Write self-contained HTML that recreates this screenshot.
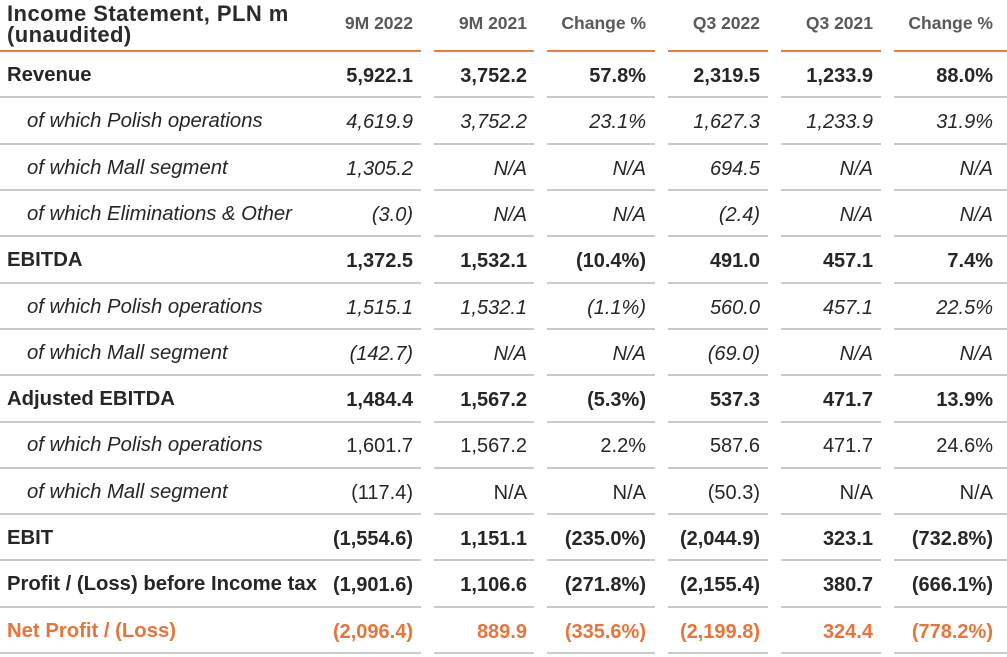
<!DOCTYPE html>
<html>
<head>
<meta charset="utf-8">
<style>
  html,body{margin:0;padding:0;background:#fff;}
  #c{position:relative;width:1007px;height:657px;overflow:hidden;background:#fff;font-family:"Liberation Sans",Arial,sans-serif;color:#262626;}
  .ln{position:absolute;height:2px;background:#c9c9c9;}
  .or{background:#ec7b3c;}
  .t{position:absolute;white-space:nowrap;}
  .title{left:7px;top:3px;font-size:22px;line-height:21px;font-weight:bold;letter-spacing:0.45px;color:#2a2a2a;}
  .hd{font-size:17.5px;line-height:17px;font-weight:bold;color:#595959;top:15px;}
  .row{position:absolute;left:0;width:1007px;height:46px;}
  .lb{position:absolute;left:7px;top:14px;font-size:20.3px;line-height:20px;font-weight:bold;white-space:nowrap;}
  .li{position:absolute;left:27px;top:14px;font-size:20.3px;line-height:20px;font-style:italic;white-space:nowrap;}
  .n{position:absolute;top:15px;font-size:20px;line-height:20px;white-space:nowrap;}
  .b .n{font-weight:bold;}
  .i .n{font-style:italic;}
  .o{color:#e9743a;}
  .c1{right:594px;} .c2{right:480px;} .c3{right:361px;} .c4{right:247px;} .c5{right:134px;} .c6{right:14px;}
</style>
</head>
<body>
<div id="c">
  <div class="t title">Income Statement, PLN m<br>(unaudited)</div>
  <div class="t hd c1">9M 2022</div>
  <div class="t hd c2">9M 2021</div>
  <div class="t hd c3">Change %</div>
  <div class="t hd c4">Q3 2022</div>
  <div class="t hd c5">Q3 2021</div>
  <div class="t hd c6">Change %</div>

  <div class="ln or" style="top:50px;left:0;width:421px"></div>
  <div class="ln or" style="top:50px;left:434px;width:100px"></div>
  <div class="ln or" style="top:50px;left:547px;width:108px"></div>
  <div class="ln or" style="top:50px;left:668px;width:100px"></div>
  <div class="ln or" style="top:50px;left:781px;width:100px"></div>
  <div class="ln or" style="top:50px;left:894px;width:113px"></div>

  <div class="ln" style="top:96px;left:0;width:421px"></div><div class="ln" style="top:96px;left:434px;width:100px"></div><div class="ln" style="top:96px;left:547px;width:108px"></div><div class="ln" style="top:96px;left:668px;width:100px"></div><div class="ln" style="top:96px;left:781px;width:100px"></div><div class="ln" style="top:96px;left:894px;width:113px"></div>
  <div class="ln" style="top:143px;left:0;width:421px"></div><div class="ln" style="top:143px;left:434px;width:100px"></div><div class="ln" style="top:143px;left:547px;width:108px"></div><div class="ln" style="top:143px;left:668px;width:100px"></div><div class="ln" style="top:143px;left:781px;width:100px"></div><div class="ln" style="top:143px;left:894px;width:113px"></div>
  <div class="ln" style="top:189px;left:0;width:421px"></div><div class="ln" style="top:189px;left:434px;width:100px"></div><div class="ln" style="top:189px;left:547px;width:108px"></div><div class="ln" style="top:189px;left:668px;width:100px"></div><div class="ln" style="top:189px;left:781px;width:100px"></div><div class="ln" style="top:189px;left:894px;width:113px"></div>
  <div class="ln" style="top:235px;left:0;width:421px"></div><div class="ln" style="top:235px;left:434px;width:100px"></div><div class="ln" style="top:235px;left:547px;width:108px"></div><div class="ln" style="top:235px;left:668px;width:100px"></div><div class="ln" style="top:235px;left:781px;width:100px"></div><div class="ln" style="top:235px;left:894px;width:113px"></div>
  <div class="ln" style="top:282px;left:0;width:421px"></div><div class="ln" style="top:282px;left:434px;width:100px"></div><div class="ln" style="top:282px;left:547px;width:108px"></div><div class="ln" style="top:282px;left:668px;width:100px"></div><div class="ln" style="top:282px;left:781px;width:100px"></div><div class="ln" style="top:282px;left:894px;width:113px"></div>
  <div class="ln" style="top:328px;left:0;width:421px"></div><div class="ln" style="top:328px;left:434px;width:100px"></div><div class="ln" style="top:328px;left:547px;width:108px"></div><div class="ln" style="top:328px;left:668px;width:100px"></div><div class="ln" style="top:328px;left:781px;width:100px"></div><div class="ln" style="top:328px;left:894px;width:113px"></div>
  <div class="ln" style="top:374px;left:0;width:421px"></div><div class="ln" style="top:374px;left:434px;width:100px"></div><div class="ln" style="top:374px;left:547px;width:108px"></div><div class="ln" style="top:374px;left:668px;width:100px"></div><div class="ln" style="top:374px;left:781px;width:100px"></div><div class="ln" style="top:374px;left:894px;width:113px"></div>
  <div class="ln" style="top:421px;left:0;width:421px"></div><div class="ln" style="top:421px;left:434px;width:100px"></div><div class="ln" style="top:421px;left:547px;width:108px"></div><div class="ln" style="top:421px;left:668px;width:100px"></div><div class="ln" style="top:421px;left:781px;width:100px"></div><div class="ln" style="top:421px;left:894px;width:113px"></div>
  <div class="ln" style="top:467px;left:0;width:421px"></div><div class="ln" style="top:467px;left:434px;width:100px"></div><div class="ln" style="top:467px;left:547px;width:108px"></div><div class="ln" style="top:467px;left:668px;width:100px"></div><div class="ln" style="top:467px;left:781px;width:100px"></div><div class="ln" style="top:467px;left:894px;width:113px"></div>
  <div class="ln" style="top:513px;left:0;width:421px"></div><div class="ln" style="top:513px;left:434px;width:100px"></div><div class="ln" style="top:513px;left:547px;width:108px"></div><div class="ln" style="top:513px;left:668px;width:100px"></div><div class="ln" style="top:513px;left:781px;width:100px"></div><div class="ln" style="top:513px;left:894px;width:113px"></div>
  <div class="ln" style="top:559px;left:0;width:421px"></div><div class="ln" style="top:559px;left:434px;width:100px"></div><div class="ln" style="top:559px;left:547px;width:108px"></div><div class="ln" style="top:559px;left:668px;width:100px"></div><div class="ln" style="top:559px;left:781px;width:100px"></div><div class="ln" style="top:559px;left:894px;width:113px"></div>
  <div class="ln" style="top:606px;left:0;width:421px"></div><div class="ln" style="top:606px;left:434px;width:100px"></div><div class="ln" style="top:606px;left:547px;width:108px"></div><div class="ln" style="top:606px;left:668px;width:100px"></div><div class="ln" style="top:606px;left:781px;width:100px"></div><div class="ln" style="top:606px;left:894px;width:113px"></div>
  <div class="ln" style="top:652px;left:0;width:421px"></div><div class="ln" style="top:652px;left:434px;width:100px"></div><div class="ln" style="top:652px;left:547px;width:108px"></div><div class="ln" style="top:652px;left:668px;width:100px"></div><div class="ln" style="top:652px;left:781px;width:100px"></div><div class="ln" style="top:652px;left:894px;width:113px"></div>

  <div class="row b" style="top:51px">
    <span class="lb">Revenue</span>
    <span class="n c1">5,922.1</span><span class="n c2">3,752.2</span><span class="n c3">57.8%</span><span class="n c4">2,319.5</span><span class="n c5">1,233.9</span><span class="n c6">88.0%</span>
  </div>
  <div class="row i" style="top:97.3px">
    <span class="li">of which Polish operations</span>
    <span class="n c1">4,619.9</span><span class="n c2">3,752.2</span><span class="n c3">23.1%</span><span class="n c4">1,627.3</span><span class="n c5">1,233.9</span><span class="n c6">31.9%</span>
  </div>
  <div class="row i" style="top:143.6px">
    <span class="li">of which Mall segment</span>
    <span class="n c1">1,305.2</span><span class="n c2">N/A</span><span class="n c3">N/A</span><span class="n c4">694.5</span><span class="n c5">N/A</span><span class="n c6">N/A</span>
  </div>
  <div class="row i" style="top:189.9px">
    <span class="li">of which Eliminations &amp; Other</span>
    <span class="n c1">(3.0)</span><span class="n c2">N/A</span><span class="n c3">N/A</span><span class="n c4">(2.4)</span><span class="n c5">N/A</span><span class="n c6">N/A</span>
  </div>
  <div class="row b" style="top:236.2px">
    <span class="lb">EBITDA</span>
    <span class="n c1">1,372.5</span><span class="n c2">1,532.1</span><span class="n c3">(10.4%)</span><span class="n c4">491.0</span><span class="n c5">457.1</span><span class="n c6">7.4%</span>
  </div>
  <div class="row i" style="top:282.5px">
    <span class="li">of which Polish operations</span>
    <span class="n c1">1,515.1</span><span class="n c2">1,532.1</span><span class="n c3">(1.1%)</span><span class="n c4">560.0</span><span class="n c5">457.1</span><span class="n c6">22.5%</span>
  </div>
  <div class="row i" style="top:328.8px">
    <span class="li">of which Mall segment</span>
    <span class="n c1">(142.7)</span><span class="n c2">N/A</span><span class="n c3">N/A</span><span class="n c4">(69.0)</span><span class="n c5">N/A</span><span class="n c6">N/A</span>
  </div>
  <div class="row b" style="top:375.1px">
    <span class="lb">Adjusted EBITDA</span>
    <span class="n c1">1,484.4</span><span class="n c2">1,567.2</span><span class="n c3">(5.3%)</span><span class="n c4">537.3</span><span class="n c5">471.7</span><span class="n c6">13.9%</span>
  </div>
  <div class="row" style="top:421.4px">
    <span class="li">of which Polish operations</span>
    <span class="n c1">1,601.7</span><span class="n c2">1,567.2</span><span class="n c3">2.2%</span><span class="n c4">587.6</span><span class="n c5">471.7</span><span class="n c6">24.6%</span>
  </div>
  <div class="row" style="top:467.7px">
    <span class="li">of which Mall segment</span>
    <span class="n c1">(117.4)</span><span class="n c2">N/A</span><span class="n c3">N/A</span><span class="n c4">(50.3)</span><span class="n c5">N/A</span><span class="n c6">N/A</span>
  </div>
  <div class="row b" style="top:514px">
    <span class="lb">EBIT</span>
    <span class="n c1">(1,554.6)</span><span class="n c2">1,151.1</span><span class="n c3">(235.0%)</span><span class="n c4">(2,044.9)</span><span class="n c5">323.1</span><span class="n c6">(732.8%)</span>
  </div>
  <div class="row b" style="top:560.3px">
    <span class="lb">Profit / (Loss) before Income tax</span>
    <span class="n c1">(1,901.6)</span><span class="n c2">1,106.6</span><span class="n c3">(271.8%)</span><span class="n c4">(2,155.4)</span><span class="n c5">380.7</span><span class="n c6">(666.1%)</span>
  </div>
  <div class="row b o" style="top:606.6px">
    <span class="lb">Net Profit / (Loss)</span>
    <span class="n c1">(2,096.4)</span><span class="n c2">889.9</span><span class="n c3">(335.6%)</span><span class="n c4">(2,199.8)</span><span class="n c5">324.4</span><span class="n c6">(778.2%)</span>
  </div>
</div>
</body>
</html>
